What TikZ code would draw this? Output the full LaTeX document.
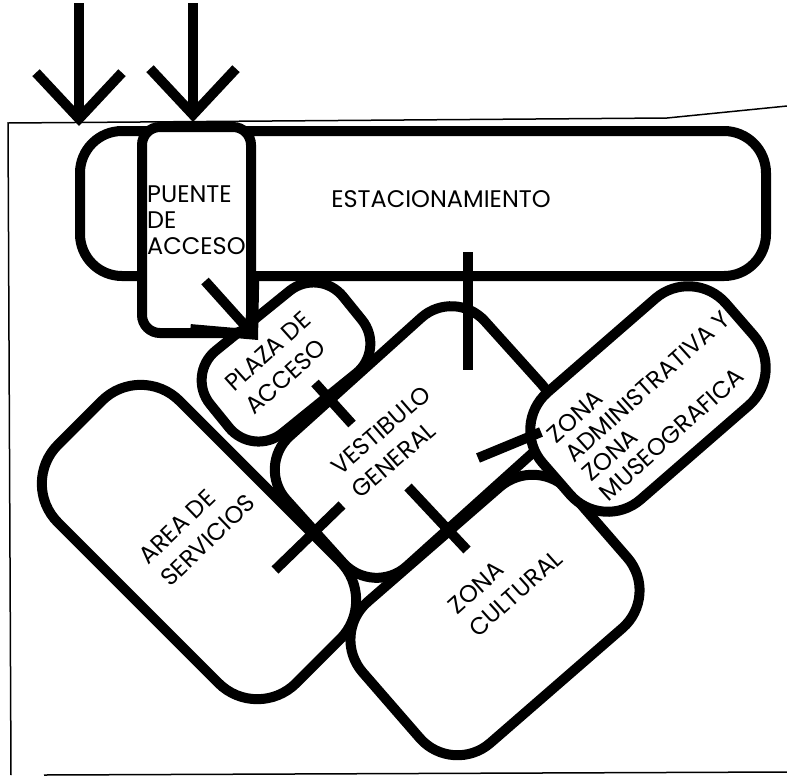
\documentclass[tikz,border=0pt]{standalone}
\usepackage{fontspec}
\setmainfont{Poppins}
\usetikzlibrary{arrows.meta}

\tikzset{
  zone/.style={draw, fill=white, line width=10pt, inner sep=0pt, rounded corners=#1},
  zone/.default=40pt,
  tag/.style={font=\fontsize{24}{31}\selectfont, align=left, inner sep=0pt},
  link/.style={line width=10pt},
  entry/.style={line width=10pt, -{Straight Barb[length=46pt,width=86pt]}},
  frame/.style={line width=1.5pt},
}

\begin{document}
\begin{tikzpicture}[x=1pt,y=-1pt]
\useasboundingbox (0,0) rectangle (787,777);
% Frame of the site
    \draw[frame] (11,775) -- (8,123) -- (667,118) -- (787,106);
    \draw[frame] (44,775) -- (787,772);
% Zones
    \node[zone=50pt, minimum width=275pt, minimum height=187pt, rotate=41] (cultural) at (495,615) {};
    \node[zone=55pt, minimum width=337pt, minimum height=172pt, rotate=-45] (area) at (199,542) {};
    \node[zone=45pt, minimum width=267pt, minimum height=175pt, rotate=42] (vest) at (414,442) {};
    \node[zone=50pt, minimum width=243pt, minimum height=142pt, rotate=41] (admin) at (648,399) {};
    \node[zone=38pt, minimum width=171pt, minimum height=106pt, rotate=39] (plaza) at (286,362) {};
    \node[zone=42pt, minimum width=686pt, minimum height=145pt] (est) at (423,203.5) {};
    \node[zone=18pt, minimum width=109pt, minimum height=206pt] (puente) at (196.5,230) {};
% Names
    \node[tag] (esttxt) at (441,199) {ESTACIONAMIENTO};
    \node[tag, anchor=north west, font=\fontsize{24}{26}\selectfont] (puentetxt) at (147,186) {PUENTE\\DE\\ACCESO};
    \node[tag, rotate=42] (plazatxt) at (278,363) {PLAZA DE\\ACCESO};
    \node[tag, rotate=41] (vesttxt) at (391,442) {VESTIBULO\\GENERAL};
    \node[tag, rotate=44] (areatxt) at (197,529) {AREA DE\\SERVICIOS};
    \node[tag, rotate=42, font=\fontsize{24}{26}\selectfont] (admintxt) at (656,396) {ZONA\\ADMINISTRATIVA Y\\ZONA\\MUSEOGRAFICA};
    \node[tag, rotate=42] (culturaltxt) at (505,582) {ZONA\\CULTURAL};
% Links between zones
    \coordinate (ev1) at (468,252);  \coordinate (ev2) at (468,370);
    \coordinate (pv1) at (315,383);  \coordinate (pv2) at (352,424);
    \coordinate (av1) at (275,570);  \coordinate (av2) at (342,505);
    \coordinate (vc1) at (408,487);  \coordinate (vc2) at (467,550);
    \coordinate (va1) at (478,458);  \coordinate (va2) at (541,432);
    \draw[link] (ev1) -- (ev2);
    \draw[link] (pv1) -- (pv2);
    \draw[link] (av1) -- (av2);
    \draw[link] (vc1) -- (vc2);
    \draw[link] (va1) -- (va2);
% Entrances
    \coordinate (in1) at (79,3);
    \coordinate (in2) at (193,3);
    \coordinate (in3) at (205,281);
    \coordinate (in3end) at (258,340);
    \draw[entry] (in1) -- (in1 |- est.north);
    \draw[entry] (in2) -- (in2 |- puente.north);
    \draw[entry] (in3) -- (in3end);
\end{tikzpicture}
\end{document}
